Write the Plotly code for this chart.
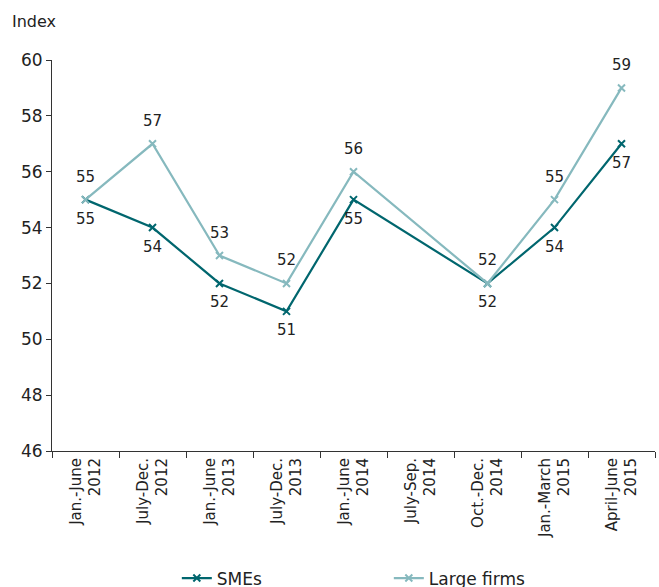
import plotly.graph_objects as go

periods = ["Jan.-June<br>2012", "July-Dec.<br>2012", "Jan.-June<br>2013", "July-Dec.<br>2013",
           "Jan.-June<br>2014", "July-Sep.<br>2014", "Oct.-Dec.<br>2014", "Jan.-March<br>2015",
           "April-June<br>2015"]
smes = [55, 54, 52, 51, 55, None, 52, 54, 57]
large_firms = [55, 57, 53, 52, 56, None, 52, 55, 59]

dark = "#00666e"
light = "#86b9be"
font = "DejaVu Sans"
label_font = dict(size=15, color="#222", family=font)

fig = go.Figure()
for name, values, color in [("SMEs", smes, dark), ("Large firms", large_firms, light)]:
    fig.add_trace(go.Scatter(
        x=periods, y=values, name=name, mode="lines+markers",
        line=dict(color=color, width=2.2), connectgaps=True,
        marker=dict(symbol="x-thin", size=7, line=dict(color=color, width=2)),
    ))

# value labels: SMEs below their points, large firms above
annotations = []
for values, shift in [(smes, -19), (large_firms, 23)]:
    for p, v in zip(periods, values):
        if v is None:
            continue
        annotations.append(dict(x=p, y=v, text=str(v), showarrow=False,
                                yshift=shift, font=label_font))
annotations.append(dict(text="Index", xref="paper", yref="paper", x=-0.07, y=1.07,
                        xanchor="left", yanchor="bottom", showarrow=False,
                        font=dict(size=16, color="#222")))

fig.update_layout(
    width=659, height=587,
    margin=dict(l=52, r=4, t=60, b=136, autoexpand=False),
    paper_bgcolor="white", plot_bgcolor="white",
    font=dict(family=font, color="#222"),
    showlegend=True,
    legend=dict(orientation="h", x=0.207, xanchor="left", y=-0.28, yanchor="top",
                font=dict(size=17), entrywidth=167, entrywidthmode="pixels"),
    annotations=annotations,
)
fig.update_xaxes(
    type="category", range=[-0.5, 8.5], tickangle=-90, tickson="boundaries",
    ticks="outside", ticklen=6, tickcolor="#333", showline=True, linecolor="#333",
    linewidth=1, showgrid=False, tickfont=dict(size=15, color="#222"), automargin=False,
)
fig.update_yaxes(
    range=[46, 60], dtick=2, ticks="outside", ticklen=5, tickcolor="#333",
    showline=True, linecolor="#333", linewidth=1, showgrid=False, zeroline=False,
    tickfont=dict(size=17, color="#222"), automargin=False,
)

fig.write_html("out.html")
